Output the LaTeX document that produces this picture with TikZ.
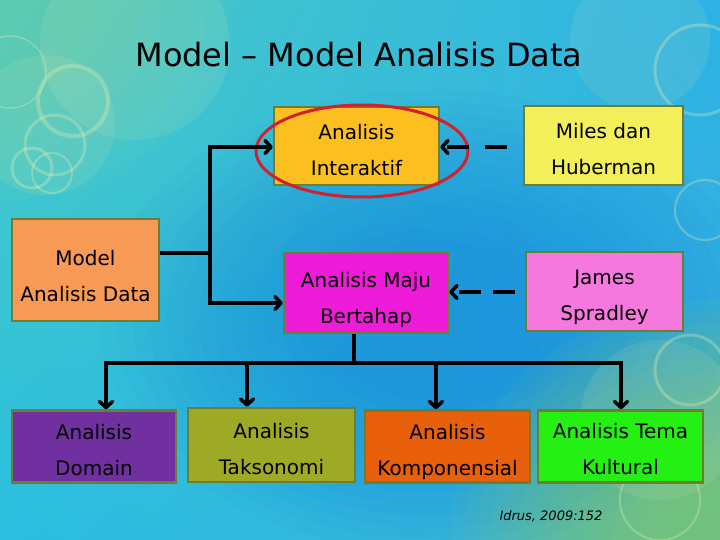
\documentclass[tikz,border=0pt]{standalone}
\usepackage{fontspec}
\setmainfont{DejaVu Sans}
\usetikzlibrary{arrows.meta,shadings}
\definecolor{bgUL}{HTML}{4ACCC4}
\definecolor{bgUR}{HTML}{2CB2E6}
\definecolor{bgLL}{HTML}{2ABEE0}
\definecolor{bgLR}{HTML}{3AB0D8}
\definecolor{bgblue}{HTML}{0C7CE8}
\definecolor{bggreen}{HTML}{A0D24C}
\definecolor{bggreenTL}{HTML}{80D49C}
\definecolor{boxedge}{HTML}{6E7D31}
\definecolor{cInter}{HTML}{FBBF20}
\definecolor{cMiles}{HTML}{F2EF5A}
\definecolor{cModel}{HTML}{F79A55}
\definecolor{cMaju}{HTML}{EE1CD8}
\definecolor{cJames}{HTML}{F478DD}
\definecolor{cDomain}{HTML}{7030A0}
\definecolor{cTakso}{HTML}{9EAA26}
\definecolor{cKomp}{HTML}{E8600C}
\definecolor{cKultur}{HTML}{24F014}
\definecolor{ringc}{HTML}{F0F0B0}
\definecolor{hlred}{HTML}{D2202C}
\newcommand\dgboxfont{\fontsize{20}{36}\selectfont}
\newcommand\dgtitlefont{\fontsize{32}{38}\selectfont}
\newcommand\dgcapfont{\fontsize{13}{15}\selectfont\itshape}
\newcommand\dglow[2][4pt]{\raisebox{-#1}[\height][\depth]{\begin{tabular}{@{}c@{}}#2\end{tabular}}}
\begin{document}
\begin{tikzpicture}[x=1pt,y=-1pt,
  box/.style={draw=boxedge,line width=2.5pt,font=\dgboxfont,inner sep=0pt},
  conn/.style={line width=3.5pt,line join=miter,draw=black},
  arr/.style={conn,-{Straight Barb[length=6pt,width=13pt,round]}},
  dasharr/.style={arr,dash pattern=on 22pt off 16pt},
  ring/.style={draw=ringc,draw opacity=0.3},
  blob/.style={fill=ringc,fill opacity=0.10}]
% background
\useasboundingbox (0,0) rectangle (720,540);
\shade[upper left=bgUL,upper right=bgUR,lower left=bgLL,lower right=bgLR] (0,0) rectangle (720,540);
\begin{scope}
\clip (0,0) rectangle (720,540);
\foreach \r in {1.0,0.95,...,0.3}
  \fill[bgblue,fill opacity=0.045] (430,320) ellipse [x radius=\r*330pt, y radius=\r*230pt];
\foreach \r in {1.0,0.95,...,0.2}
  \fill[bggreen,fill opacity=0.055] (720,540) ellipse [x radius=\r*270pt, y radius=\r*240pt];
\foreach \r in {1.0,0.9,...,0.3}
  \fill[bggreenTL,fill opacity=0.07] (0,0) ellipse [x radius=\r*230pt, y radius=\r*200pt];
% decorative rings
\fill[blob] (135,45) circle [radius=95pt];
\fill[blob] (45,125) circle [radius=70pt];
\fill[blob] (640,40) circle [radius=70pt];
\fill[blob] (660,420) circle [radius=80pt];
\draw[ring,line width=1.5pt] (10,72) circle [radius=36pt];
\draw[ring,line width=4pt] (73,101) circle [radius=35pt];
\draw[ring,line width=3pt] (55,145) circle [radius=30pt];
\draw[ring,line width=3pt] (32,168) circle [radius=20pt];
\draw[ring,line width=2pt] (52,173) circle [radius=20pt];
\draw[ring,line width=3pt] (700,70) circle [radius=45pt];
\draw[ring,line width=2pt] (705,210) circle [radius=30pt];
\draw[ring,line width=3pt] (690,370) circle [radius=35pt];
\draw[ring,line width=2pt] (660,500) circle [radius=40pt];
\end{scope}
% title
\node[font=\dgtitlefont,inner sep=0pt] (title) at (359,55) {Model – Model Analisis Data};
% boxes
\node[box,fill=cInter,minimum width=165pt,minimum height=78pt] (inter) at (356.5,146) {\dglow{Analisis\\Interaktif}};
\node[box,fill=cMiles,minimum width=159pt,minimum height=79pt] (miles) at (603.5,145.5) {\dglow{Miles dan\\Huberman}};
\node[box,fill=cModel,minimum width=147pt,minimum height=102pt] (model) at (85.5,270) {\dglow[6pt]{Model\\Analisis Data}};
\node[box,fill=cMaju,minimum width=164pt,minimum height=80pt] (maju) at (366,293) {\dglow[5pt]{Analisis Maju\\Bertahap}};
\node[box,fill=cJames,minimum width=157pt,minimum height=79pt] (james) at (604.5,291.5) {\dglow{James\\Spradley}};
\node[box,fill=cDomain,minimum width=164pt,minimum height=69pt] (domain) at (94,446.5) {\dglow{Analisis\\Domain}};
\node[box,fill=cTakso,minimum width=167pt,minimum height=74pt] (takso) at (271.5,445) {\dglow{Analisis\\Taksonomi}};
\node[box,fill=cKomp,minimum width=165pt,minimum height=69pt] (komp) at (447.5,446.5) {\dglow{Analisis\\Komponensial}};
\node[box,fill=cKultur,minimum width=165pt,minimum height=69pt] (kultur) at (620.5,446.5) {\dglow[3pt]{Analisis Tema\\Kultural}};
% highlight ellipse
\draw[hlred,line width=3pt] (362,151) ellipse [x radius=106pt, y radius=46pt];
% connectors
\coordinate (ja) at (210,147);
\coordinate (jm) at (210,253);
\coordinate (jb) at (210,303);
\draw[conn] (model.east |- jm) -- (jm);
\draw[conn] (ja) -- (jb);
\draw[arr] ([xshift=-1.75pt]ja) -- (ja -| inter.west);
\draw[arr] ([xshift=-1.75pt]jb) -- (jb -| maju.west);
\draw[dasharr,shorten <=16pt] (miles.west |- ja) -- (ja -| inter.east);
\coordinate (jd) at (210,292);
\draw[dasharr,dash pattern=on 22pt off 12pt,shorten <=10pt] (james.west |- jd) -- (jd -| maju.east);
\coordinate (jc) at (354,363);
\coordinate (d1) at (106,363);
\coordinate (d2) at (247,363);
\coordinate (d3) at (436,363);
\coordinate (d4) at (621,363);
\draw[conn] (maju.south -| jc) -- (jc);
\draw[conn] ([xshift=-1.75pt]d1) -- ([xshift=1.75pt]d4);
\draw[arr] ([yshift=-1.75pt]d1) -- (d1 |- domain.north);
\draw[arr] (d2) -- (d2 |- takso.north);
\draw[arr] (d3) -- (d3 |- komp.north);
\draw[arr] ([yshift=-1.75pt]d4) -- (d4 |- kultur.north);
% caption
\node[font=\dgcapfont,inner sep=0pt] (cap) at (551,516) {Idrus, 2009:152};
\end{tikzpicture}
\end{document}
